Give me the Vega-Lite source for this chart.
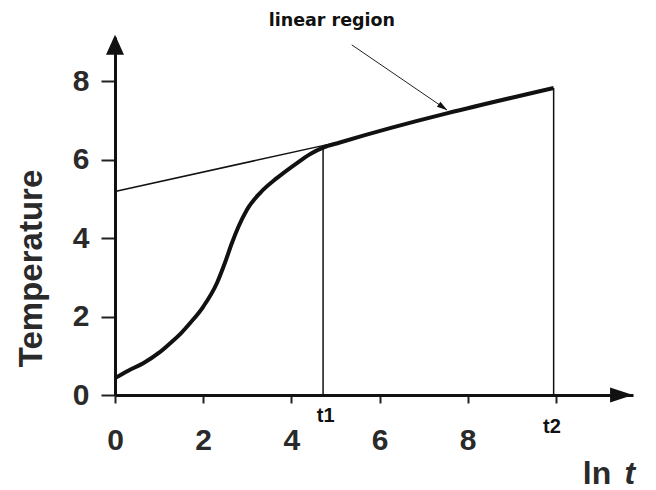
{
  "$schema": "https://vega.github.io/schema/vega-lite/v6.json",
  "width": 518,
  "height": 358,
  "autosize": {"type": "none"},
  "padding": {"left": 115, "top": 37, "right": 23, "bottom": 95},
  "background": "white",
  "config": {"view": {"stroke": null}, "axis": {"grid": false}},
  "datasets": {
    "curve": [
      {"x": 0, "y": 0.43}, {"x": 0.3, "y": 0.62}, {"x": 0.64, "y": 0.81}, {"x": 1.0, "y": 1.08},
      {"x": 1.25, "y": 1.32}, {"x": 1.5, "y": 1.58}, {"x": 1.7, "y": 1.83}, {"x": 2.0, "y": 2.25},
      {"x": 2.31, "y": 2.85}, {"x": 2.49, "y": 3.36}, {"x": 2.65, "y": 3.87}, {"x": 2.8, "y": 4.29},
      {"x": 2.99, "y": 4.72}, {"x": 3.29, "y": 5.15}, {"x": 3.67, "y": 5.53}, {"x": 4.12, "y": 5.91},
      {"x": 4.45, "y": 6.16}, {"x": 4.72, "y": 6.31}, {"x": 5.1, "y": 6.44}, {"x": 9.95, "y": 7.83}
    ],
    "tangent": [{"x": 0, "y": 5.19}, {"x": 5.0, "y": 6.43}],
    "verticals": [{"x": 4.72, "y": 0, "top": 6.33}, {"x": 9.95, "y": 0, "top": 7.83}],
    "pointer": [{"x": 5.37, "y": 8.93, "x2": 7.53, "y2": 7.27}],
    "pointerHead": [{"x": 7.44, "y": 7.34}],
    "yArrow": [{"x": 0, "y": 8.93}],
    "xArrow": [{"x": 11.49, "y": 0}],
    "tLabels": [{"x": 4.78, "y": -0.69, "label": "t1"}, {"x": 9.91, "y": -0.97, "label": "t2"}],
    "note": [{"x": 4.92, "y": 9.41, "label": "linear region"}],
    "lnLabel": [{"x": 10.61, "y": -2.27, "label": "ln"}],
    "tLabel": [{"x": 11.56, "y": -2.27, "label": "t"}]
  },
  "encoding": {
    "x": {"field": "x", "type": "quantitative", "scale": {"domain": [0, 11.75], "nice": false, "zero": false},
      "axis": {"values": [0, 2, 4, 6, 8, 10], "labelExpr": "datum.value == 10 ? '' : datum.label", "title": null,
        "tickSize": 8, "tickWidth": 2, "tickColor": "#222", "domainWidth": 3, "domainColor": "#111",
        "labelFont": "Liberation Sans", "labelFontSize": 30, "labelFontWeight": "bold", "labelColor": "#2a2a2a", "labelPadding": 22, "labelFlush": false}},
    "y": {"field": "y", "type": "quantitative", "scale": {"domain": [0, 9.13], "nice": false, "zero": false},
      "axis": {"values": [0, 2, 4, 6, 8], "title": "Temperature",
        "tickSize": 14, "tickWidth": 2, "tickColor": "#222", "domainWidth": 3, "domainColor": "#111",
        "labelFont": "Liberation Sans", "labelFontSize": 30, "labelFontWeight": "bold", "labelColor": "#2a2a2a", "labelPadding": 12, "labelFlush": false,
        "titleFont": "Liberation Sans", "titleFontSize": 33, "titleFontWeight": "bold", "titleColor": "#2a2a2a",
        "titleAngle": -90, "titleX": -74, "titleY": 231, "titleAlign": "center", "titleBaseline": "alphabetic"}}
  },
  "layer": [
    {
      "data": {"name": "curve"},
      "mark": {"type": "line", "color": "#111", "strokeWidth": 4, "interpolate": "monotone"}
    },
    {
      "data": {"name": "tangent"},
      "mark": {"type": "line", "color": "#111", "strokeWidth": 1.5}
    },
    {
      "data": {"name": "verticals"},
      "mark": {"type": "rule", "color": "#111", "strokeWidth": 1.5},
      "encoding": {"y2": {"field": "top"}}
    },
    {
      "data": {"name": "pointer"},
      "mark": {"type": "rule", "color": "#222", "strokeWidth": 1},
      "encoding": {"x2": {"field": "x2"}, "y2": {"field": "y2"}}
    },
    {
      "data": {"name": "pointerHead"},
      "mark": {"type": "point", "shape": "M-1,-0.6L1,0L-1,0.6Z", "size": 110, "angle": 34.4, "filled": true, "color": "#111", "opacity": 1, "strokeWidth": 0}
    },
    {
      "data": {"name": "yArrow"},
      "mark": {"type": "point", "shape": "M-0.9,1L0,-1L0.9,1Z", "size": 400, "filled": true, "color": "#111", "opacity": 1, "strokeWidth": 0}
    },
    {
      "data": {"name": "xArrow"},
      "mark": {"type": "point", "shape": "M-1,-0.65L1,0L-1,0.65Z", "size": 529, "filled": true, "color": "#111", "opacity": 1, "strokeWidth": 0}
    },
    {
      "data": {"name": "tLabels"},
      "mark": {"type": "text", "font": "Liberation Sans", "fontSize": 20, "fontWeight": "bold", "color": "#111", "align": "center", "baseline": "alphabetic"},
      "encoding": {"text": {"field": "label"}}
    },
    {
      "data": {"name": "note"},
      "mark": {"type": "text", "font": "DejaVu Sans", "fontSize": 17.5, "fontWeight": "bold", "color": "#111", "align": "center", "baseline": "alphabetic"},
      "encoding": {"text": {"field": "label"}}
    },
    {
      "data": {"name": "lnLabel"},
      "mark": {"type": "text", "font": "Liberation Sans", "fontSize": 32, "fontWeight": "bold", "color": "#2a2a2a", "align": "left", "baseline": "alphabetic"},
      "encoding": {"text": {"field": "label"}}
    },
    {
      "data": {"name": "tLabel"},
      "mark": {"type": "text", "font": "Liberation Sans", "fontSize": 32, "fontWeight": "bold", "fontStyle": "italic", "color": "#2a2a2a", "align": "left", "baseline": "alphabetic"},
      "encoding": {"text": {"field": "label"}}
    }
  ]
}
